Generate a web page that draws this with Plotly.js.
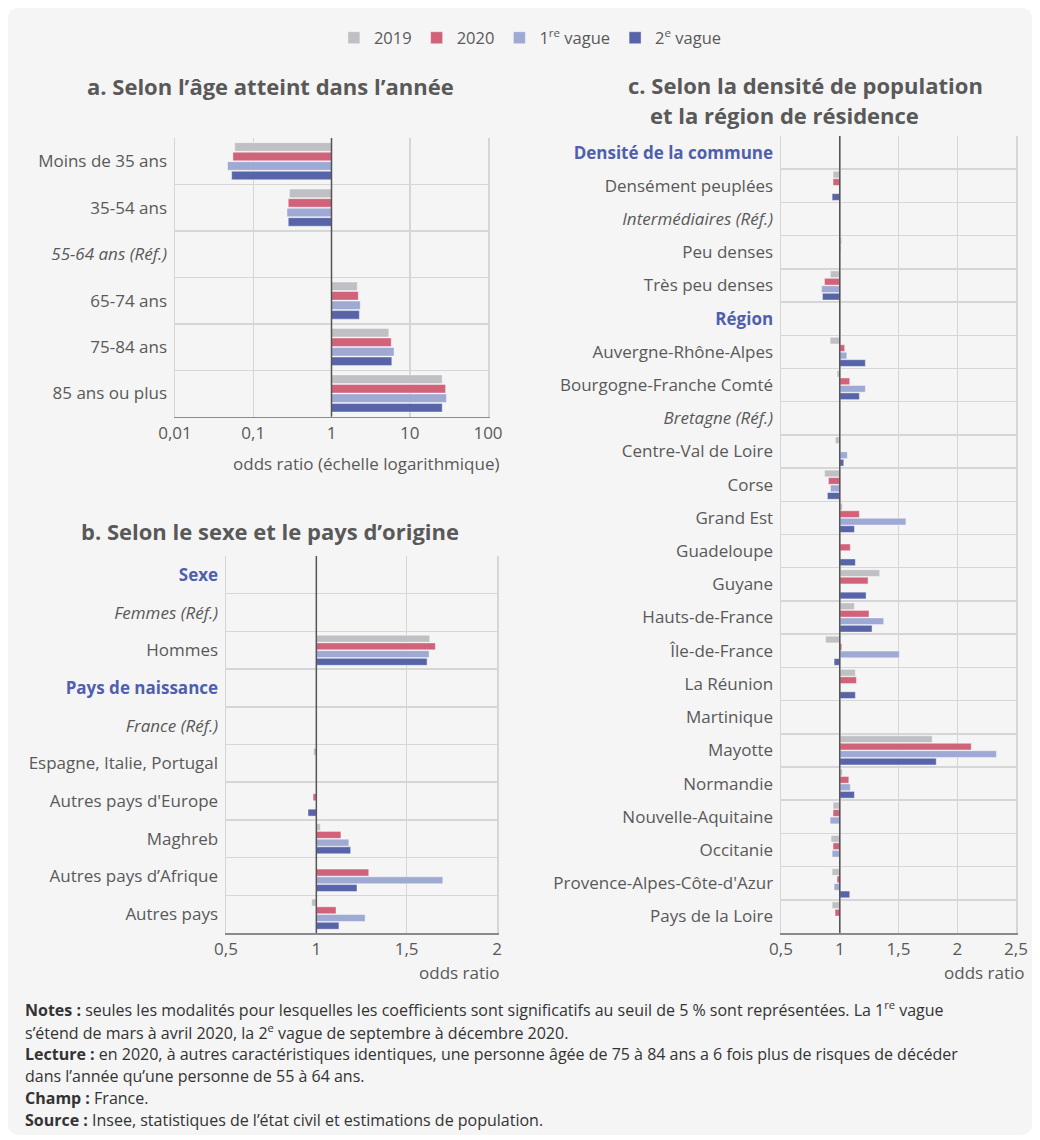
<!DOCTYPE html>
<html><head><meta charset="utf-8">
<script src="https://cdn.plot.ly/plotly-3.0.1.min.js"></script>
<style>
html,body{margin:0;padding:0;background:#fff;}
#bg{position:absolute;left:8px;top:8px;width:1024px;height:1127px;background:#f5f5f5;border-radius:10px;}
#chart{position:absolute;left:0;top:0;width:1040px;height:1140px;}
</style></head>
<body><div id="bg"></div><div id="chart"></div>
<script>
const BLUE = '#4f5fae';
const seriesNames = ['2019','2020','1<sup>re</sup> vague','2<sup>e</sup> vague'];
const seriesColors = ['#c0c0c4','#d0627a','#9ea9d4','#5864a8'];

// Panel a
const catsA = ['Moins de 35 ans','35-54 ans','<i>55-64 ans (Réf.)</i>','65-74 ans','75-84 ans','85 ans ou plus'];
const a2019 = [0.058,0.29,null,2.14,5.4,26];
const a2020 = [0.055,0.28,null,2.2,5.8,28.7];
const aV1   = [0.047,0.27,null,2.33,6.3,29.5];
const aV2   = [0.053,0.28,null,2.27,5.9,26];
const ticksA = [0.01,0.1,1,10,100];
const tickTextA = ['0,01','0,1','1','10','100'];

// Panel b
const catsB = ['<b><span style="color:'+BLUE+'">Sexe</span></b>','<i>Femmes (Réf.)</i>','Hommes',
  '<b><span style="color:'+BLUE+'">Pays de naissance</span></b>','<i>France (Réf.)</i>',
  'Espagne, Italie, Portugal',"Autres pays d'Europe",'Maghreb','Autres pays d’Afrique','Autres pays'];
const b2019 = [null,null,1.628,null,null,0.985,null,1.022,null,0.974];
const b2020 = [null,null,1.659,null,null,null,0.982,1.136,1.29,1.109];
const bV1   = [null,null,1.624,null,null,null,null,1.18,1.70,1.27];
const bV2   = [null,null,1.613,null,null,null,0.954,1.19,1.225,1.125];
const ticksB = [0.5,1,1.5,2];
const tickTextB = ['0,5','1','1,5','2'];

// Panel c
const catsC = ['<b><span style="color:'+BLUE+'">Densité de la commune</span></b>','Densément peuplées','<i>Intermédiaires (Réf.)</i>',
  'Peu denses','Très peu denses','<b><span style="color:'+BLUE+'">Région</span></b>','Auvergne-Rhône-Alpes',
  'Bourgogne-Franche Comté','<i>Bretagne (Réf.)</i>','Centre-Val de Loire','Corse','Grand Est','Guadeloupe','Guyane',
  'Hauts-de-France','Île-de-France','La Réunion','Martinique','Mayotte','Normandie','Nouvelle-Aquitaine','Occitanie',
  "Provence-Alpes-Côte-d'Azur",'Pays de la Loire'];
const c2019 = [null,0.943,null,1.017,0.92,null,0.918,0.977,null,0.963,0.87,1.023,null,1.34,1.125,0.879,1.133,null,1.787,1.023,0.943,0.926,0.935,0.935];
const c2020 = [null,0.943,null,1.008,0.87,null,1.042,1.085,null,null,0.904,1.167,1.09,1.241,1.249,1.017,1.142,null,2.119,1.077,0.943,0.943,0.977,0.96];
const cV1   = [null,null,null,null,0.845,null,1.06,1.218,null,1.065,0.921,1.563,null,null,1.374,1.507,null,null,2.334,1.09,0.918,0.935,0.952,null];
const cV2   = [null,0.935,null,null,0.853,null,1.218,1.167,null,1.034,0.895,1.125,1.133,1.224,1.275,0.952,1.133,null,1.821,1.125,null,null,1.085,null];
const ticksC = [0.5,1,1.5,2,2.5];
const tickTextC = ['0,5','1','1,5','2','2,5'];

const W = 1040, H = 1140;
const px = v => v / W;
const py = v => 1 - v / H;

function makeTraces(cats, series, xa, ya, frac, showLegend) {
  const slot = frac / series.length;
  return series.map((vals, i) => ({
    type: 'bar', orientation: 'h',
    y: cats, x: vals.map(v => v === null ? null : v - 1), base: 1,
    width: slot * 0.9, offset: -frac / 2 + i * slot + slot * 0.05,
    xaxis: xa, yaxis: ya,
    name: seriesNames[i], legendgroup: 's' + i, showlegend: showLegend,
    marker: {color: seriesColors[i], line: {color: 'rgba(255,255,255,0.7)', width: 0.6}},
    hoverinfo: 'skip'
  }));
}

const traces = [
  ...makeTraces(catsA, [a2019,a2020,aV1,aV2], 'x', 'y', 0.82, true),
  ...makeTraces(catsB, [b2019,b2020,bV1,bV2], 'x2', 'y2', 0.82, false),
  ...makeTraces(catsC, [c2019,c2020,cV1,cV2], 'x3', 'y3', 0.90, false)
];

const tickFont = {family: 'Open Sans, sans-serif', size: 17, color: '#595959'};
function xAxis(domain, anchor, type, range, tv, tt) {
  return {domain: domain, anchor: anchor, type: type, range: range, tickvals: tv, ticktext: tt,
    showgrid: true, gridcolor: '#d6d6d6', gridwidth: 1.5, zeroline: false,
    showline: true, linecolor: '#8a8a8a', linewidth: 1.5, ticks: '', tickfont: tickFont, fixedrange: true};
}
function yAxis(domain, anchor) {
  return {domain: domain, anchor: anchor, type: 'category', autorange: 'reversed', tickson: 'boundaries',
    showgrid: true, gridcolor: '#d6d6d6', gridwidth: 1.5, zeroline: false,
    showline: true, mirror: true, linecolor: '#d6d6d6', linewidth: 1.5, ticks: '', tickfont: tickFont,
    ticklabelstandoff: 3, fixedrange: true};
}

const titleFont = {family: 'Open Sans, sans-serif', size: 22, color: '#595959'};
const noteFont = {family: 'Open Sans, sans-serif', size: 16, color: '#333'};
const ann = (x, y, text, font, xanchor) => ({xref: 'paper', yref: 'paper', x: px(x), y: py(y), text: text,
  showarrow: false, font: font, xanchor: xanchor || 'center', yanchor: 'middle', align: xanchor === 'left' ? 'left' : 'center'});

const annotations = [
  ann(270, 86, '<b>a. Selon l’âge atteint dans l’année</b>', titleFont),
  ann(270, 531, '<b>b. Selon le sexe et le pays d’origine</b>', titleFont),
  ann(805, 85, '<b>c. Selon la densité de population</b>', titleFont),
  ann(784, 115, '<b>et la région de résidence</b>', titleFont),
  ann(502, 464, 'odds ratio (échelle logarithmique)', tickFont, 'right'),
  ann(502, 972, 'odds ratio', tickFont, 'right'),
  ann(1027, 972, 'odds ratio', tickFont, 'right'),
  ann(23, 1009, '<b>Notes :</b> seules les modalités pour lesquelles les coefficients sont significatifs au seuil de 5 % sont représentées. La 1<sup>re</sup> vague', noteFont, 'left'),
  ann(23, 1032, 's’étend de mars à avril 2020, la 2<sup>e</sup> vague de septembre à décembre 2020.', noteFont, 'left'),
  ann(23, 1054, '<b>Lecture :</b> en 2020, à autres caractéristiques identiques, une personne âgée de 75 à 84 ans a 6 fois plus de risques de décéder', noteFont, 'left'),
  ann(23, 1076, 'dans l’année qu’une personne de 55 à 64 ans.', noteFont, 'left'),
  ann(23, 1098, '<b>Champ :</b> France.', noteFont, 'left'),
  ann(23, 1120, '<b>Source :</b> Insee, statistiques de l’état civil et estimations de population.', noteFont, 'left')
];

const refLine = (xa, ya) => ({type: 'line', xref: xa, yref: ya + ' domain', x0: 1, x1: 1, y0: 0, y1: 1,
  line: {color: '#555', width: 1.5}, layer: 'above'});

const layout = {
  width: W, height: H,
  margin: {l: 0, r: 0, t: 0, b: 0},
  paper_bgcolor: 'rgba(0,0,0,0)', plot_bgcolor: 'rgba(0,0,0,0)',
  font: {family: 'Open Sans, sans-serif', color: '#595959'},
  separators: ', ',
  barmode: 'overlay',
  showlegend: true,
  legend: {orientation: 'h', x: 0.51, xanchor: 'center', y: py(38), yanchor: 'middle',
    font: {family: 'Open Sans, sans-serif', size: 16.5, color: '#595959'}, bgcolor: 'rgba(0,0,0,0)',
    itemwidth: 30, tracegroupgap: 0},
  xaxis: xAxis([px(175), px(488)], 'y', 'log', [-2, 2], ticksA, tickTextA),
  yaxis: yAxis([py(416.7), py(138)], 'x'),
  xaxis2: xAxis([px(226), px(497)], 'y2', 'linear', [0.5, 2], ticksB, tickTextB),
  yaxis2: yAxis([py(933), py(556)], 'x2'),
  xaxis3: xAxis([px(781), px(1016)], 'y3', 'linear', [0.5, 2.5], ticksC, tickTextC),
  yaxis3: yAxis([py(933), py(136)], 'x3'),
  annotations: annotations,
  shapes: [refLine('x','y'), refLine('x2','y2'), refLine('x3','y3')]
};

Plotly.newPlot('chart', traces, layout, {displayModeBar: false, staticPlot: true});
</script></body></html>
